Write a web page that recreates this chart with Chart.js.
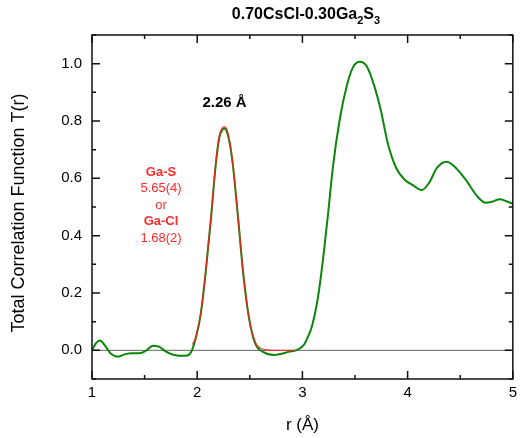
<!DOCTYPE html>
<html lang="en">
<head>
  <meta charset="UTF-8">
  <title>0.70CsCl-0.30Ga2S3 T(r)</title>
  <script src="https://cdn.jsdelivr.net/npm/chart.js"></script>
  <style>
    body { margin: 0; background: #fff; }
    #wrap { width: 522px; height: 438px; position: relative; }
  </style>
</head>
<body>
  <div id="wrap"><canvas id="trChart" width="522" height="438"></canvas></div>
  <script>
    // measured T(r), green
    const rData = [1.00, 1.04, 1.075, 1.12, 1.18, 1.25, 1.31, 1.38, 1.45, 1.51, 1.58, 1.64, 1.70, 1.76, 1.81, 1.86, 1.905, 1.93, 1.95,
      1.99, 2.035, 2.08, 2.13, 2.175, 2.21, 2.24, 2.26, 2.28, 2.31, 2.34, 2.39, 2.437, 2.49, 2.55, 2.63, 2.73, 2.80, 2.87, 2.94,
      2.98, 3.02, 3.05, 3.09, 3.15, 3.20, 3.245, 3.29, 3.355, 3.42, 3.48, 3.544, 3.61, 3.685, 3.75, 3.81, 3.89, 3.97, 4.05,
      4.135, 4.205, 4.28, 4.37, 4.44, 4.55, 4.66, 4.74, 4.80, 4.875, 4.94, 5.00];
    const tData = [0.0, 0.026, 0.034, 0.018, -0.012, -0.022, -0.014, -0.01, -0.01, -0.002, 0.016, 0.012, -0.004, -0.014, -0.018, -0.019, -0.018, -0.012, 0.0,
      0.048, 0.13, 0.27, 0.456, 0.643, 0.742, 0.77, 0.774, 0.765, 0.72, 0.643, 0.456, 0.27, 0.118, 0.025, -0.006, -0.016, -0.012, -0.005, 0.0,
      0.008, 0.022, 0.045, 0.083, 0.19, 0.33, 0.48, 0.64, 0.806, 0.92, 0.987, 1.007, 0.992, 0.92, 0.83, 0.724, 0.637, 0.596, 0.576,
      0.559, 0.585, 0.637, 0.658, 0.643, 0.596, 0.538, 0.515, 0.518, 0.527, 0.52, 0.511];

    // fitted peak, red
    const rFit = [1.955, 1.99, 2.035, 2.08, 2.13, 2.175, 2.21, 2.24, 2.26, 2.28, 2.31, 2.34, 2.39, 2.437, 2.49, 2.55, 2.60, 2.65, 2.75, 2.93];
    const tFit = [0.02, 0.05, 0.13, 0.272, 0.46, 0.647, 0.748, 0.776, 0.78, 0.772, 0.726, 0.646, 0.458, 0.272, 0.118, 0.03, 0.008, 0.002, 0.0, 0.0];

    const xTicks = [1, 2, 3, 4, 5];
    const yTicks = [0.0, 0.2, 0.4, 0.6, 0.8, 1.0];
    const peakLabel = '2.26 Å';
    const fitLines = [
      { text: 'Ga-S', bold: true },
      { text: '5.65(4)', bold: false },
      { text: 'or', bold: false },
      { text: 'Ga-Cl', bold: true },
      { text: '1.68(2)', bold: false }
    ];

    const FONT = '"Liberation Sans", Arial, sans-serif';
    const toXY = (xs, ys) => xs.map((x, i) => ({ x: x, y: ys[i] }));

    // frame, inward ticks, titles and notes
    const decor = {
      id: 'decor',
      afterDraw(chart) {
        const ctx = chart.ctx;
        const a = chart.chartArea;
        const xs = chart.scales.x, ys = chart.scales.y;
        ctx.save();
        ctx.strokeStyle = '#111';
        ctx.lineWidth = 1.5;
        ctx.strokeRect(a.left, a.top, a.right - a.left, a.bottom - a.top);
        ctx.beginPath();
        for (let v = 1; v <= 5.001; v += 0.5) {
          const px = xs.getPixelForValue(v);
          const len = Math.abs(v - Math.round(v)) < 1e-6 ? 8 : 4;
          ctx.moveTo(px, a.bottom); ctx.lineTo(px, a.bottom - len);
          ctx.moveTo(px, a.top); ctx.lineTo(px, a.top + len);
        }
        for (let i = -1; i <= 11; i++) {
          const v = i / 10;
          const py = ys.getPixelForValue(v);
          const len = i % 2 === 0 ? 8 : 4;
          ctx.moveTo(a.left, py); ctx.lineTo(a.left + len, py);
          ctx.moveTo(a.right, py); ctx.lineTo(a.right - len, py);
        }
        ctx.stroke();

        // title with subscripts
        ctx.fillStyle = '#000';
        ctx.textBaseline = 'alphabetic';
        const parts = [['0.70CsCl-0.30Ga', 0], ['2', 1], ['S', 0], ['3', 1]];
        const big = 'bold 16px ' + FONT, small = 'bold 11px ' + FONT;
        let w = 0;
        parts.forEach(p => { ctx.font = p[1] ? small : big; w += ctx.measureText(p[0]).width; });
        let x0 = 306 - w / 2;
        parts.forEach(p => {
          ctx.font = p[1] ? small : big;
          ctx.fillText(p[0], x0, p[1] ? 24 : 19);
          x0 += ctx.measureText(p[0]).width;
        });

        // axis titles
        ctx.font = '17px ' + FONT;
        ctx.textAlign = 'center';
        ctx.textBaseline = 'middle';
        ctx.fillText('r (Å)', (a.left + a.right) / 2, 425);
        ctx.save();
        ctx.translate(19, 213);
        ctx.rotate(-Math.PI / 2);
        ctx.font = '18px ' + FONT;
        ctx.fillText('Total Correlation Function T(r)', 0, 0);
        ctx.restore();

        // notes
        ctx.font = 'bold 15px ' + FONT;
        ctx.fillText(peakLabel, xs.getPixelForValue(2.26), 103);
        ctx.fillStyle = '#ff2a2a';
        fitLines.forEach((l, i) => {
          ctx.font = (l.bold ? 'bold ' : '') + '13px ' + FONT;
          ctx.fillText(l.text, 161, 172 + i * 16.6);
        });
        ctx.restore();
      }
    };

    new Chart(document.getElementById('trChart'), {
      type: 'line',
      data: {
        datasets: [
          {
            data: [{ x: 1, y: 0 }, { x: 5, y: 0 }],
            borderColor: '#666', borderWidth: 1, pointRadius: 0, tension: 0, order: 3
          },
          {
            data: toXY(rData, tData),
            borderColor: '#0a870a', borderWidth: 2, pointRadius: 0, order: 2,
            cubicInterpolationMode: 'monotone'
          },
          {
            data: toXY(rFit, tFit),
            borderColor: 'rgba(255,30,30,0.8)', borderWidth: 1.4, pointRadius: 0, order: 1,
            cubicInterpolationMode: 'monotone'
          }
        ]
      },
      options: {
        responsive: false,
        animation: false,
        layout: { padding: { top: 35, right: 6, left: 0, bottom: 0 } },
        plugins: { legend: { display: false }, tooltip: { enabled: false } },
        scales: {
          x: {
            type: 'linear', min: 1, max: 5,
            afterFit(s) { s.height = 59; },
            afterBuildTicks(s) { s.ticks = xTicks.map(v => ({ value: v })); },
            grid: { display: false, drawTicks: false },
            border: { display: false },
            ticks: { color: '#000', padding: 5, font: { family: FONT, size: 15 } }
          },
          y: {
            type: 'linear', min: -0.1, max: 1.1,
            afterFit(s) { s.width = 92; },
            afterBuildTicks(s) { s.ticks = yTicks.map(v => ({ value: v })); },
            grid: { display: false, drawTicks: false },
            border: { display: false },
            ticks: {
              color: '#000', padding: 10, font: { family: FONT, size: 15 },
              callback: v => v.toFixed(1)
            }
          }
        }
      },
      plugins: [decor]
    });
  </script>
</body>
</html>
